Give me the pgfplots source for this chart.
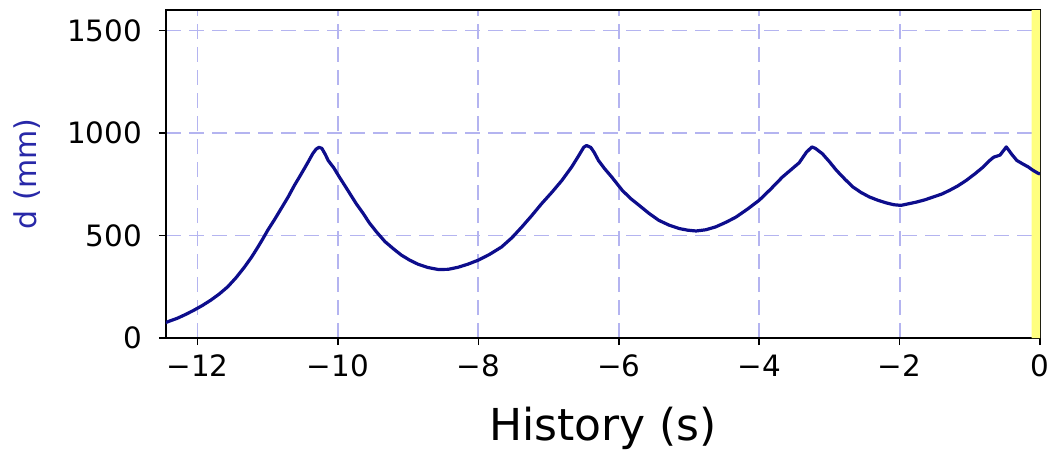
\documentclass[border=0pt]{standalone}
\usepackage{fontspec}
\setmainfont{DejaVu Sans}
\usepackage{pgfplots}
\pgfplotsset{compat=1.18}
\definecolor{curveblue}{HTML}{0D0D8C}
\definecolor{labelblue}{HTML}{2828A8}
\definecolor{gridblue}{HTML}{B4B4F0}
\definecolor{markyellow}{HTML}{FFFF80}

\begin{document}
\begin{tikzpicture}
\useasboundingbox (-83pt,-56pt) rectangle (442pt,169pt);
\begin{axis}[
  scale only axis,
  width=437pt, height=164pt,
  xmin=-12.45, xmax=0,
  ymin=0, ymax=1600,
  xtick={-12,-10,-8,-6,-4,-2,0},
  xticklabels={−12,−10,−8,−6,−4,−2,0},
  ytick={0,500,1000,1500},
  /pgf/number format/1000 sep={},
  /pgf/number format/assume math mode=true,
  tick pos=left,
  tick align=outside,
  major tick length=3.5pt,
  tick style={black, line width=0.8pt},
  axis line style={black, line width=0.8pt},
  grid=major,
  grid style={gridblue, line width=0.9pt, dash pattern=on 7.5pt off 4pt},
  ticklabel style={font=\fontsize{14.7}{17}\selectfont},
  xticklabel style={yshift=-1.5pt},
  yticklabel style={xshift=-5pt},
  xlabel={History (s)},
  xlabel style={at={(axis description cs:0.5,0)}, anchor=base, yshift=-51pt,
    inner sep=0pt, font=\fontsize{22}{26}\selectfont},
  ylabel={d (mm)},
  ylabel style={at={(axis description cs:0,0.5)}, anchor=center, yshift=69.5pt,
    inner sep=0pt, text=labelblue, font=\fontsize{15}{18}\selectfont},
]
\addplot[fill=markyellow, draw=none, forget plot] coordinates {
  (-0.12,0) (0,0) (0,1600) (-0.12,1600)
} \closedcycle;
\addplot[curveblue, line width=1.6pt, mark=none, line join=round] coordinates {
  (-12.48,72) (-12.38,85) (-12.29,96) (-12.17,115) (-12.05,136)
  (-11.93,159) (-11.81,185) (-11.69,215) (-11.57,250) (-11.45,295)
  (-11.33,347) (-11.23,395) (-11.14,444) (-11.07,484) (-11.0,526)
  (-10.90,580) (-10.81,631) (-10.71,688) (-10.62,745) (-10.55,785)
  (-10.48,826) (-10.42,862) (-10.36,899) (-10.31,922) (-10.27,930)
  (-10.23,925) (-10.18,895) (-10.14,866) (-10.06,830) (-9.98,785)
  (-9.90,742) (-9.83,704) (-9.74,655) (-9.64,607) (-9.55,560)
  (-9.45,517) (-9.33,470) (-9.21,435) (-9.10,405) (-8.98,380)
  (-8.86,360) (-8.72,344) (-8.57,334) (-8.43,335) (-8.29,345)
  (-8.15,360) (-8.0,380) (-7.84,408) (-7.67,444) (-7.52,490)
  (-7.38,542) (-7.24,597) (-7.10,655) (-6.95,712) (-6.81,769)
  (-6.67,835) (-6.57,890) (-6.50,930) (-6.46,939) (-6.40,930)
  (-6.35,905) (-6.29,866) (-6.20,825) (-6.10,785) (-5.95,720)
  (-5.83,680) (-5.71,647) (-5.57,608) (-5.43,574) (-5.28,550)
  (-5.14,534) (-5.02,526) (-4.90,522) (-4.76,528) (-4.62,542)
  (-4.47,565) (-4.33,590) (-4.17,628) (-4.0,672) (-3.84,725)
  (-3.67,785) (-3.55,820) (-3.43,855) (-3.33,905) (-3.25,932)
  (-3.20,925) (-3.10,899) (-3.00,860) (-2.90,818) (-2.78,775)
  (-2.67,738) (-2.55,710) (-2.43,688) (-2.31,672) (-2.19,659)
  (-2.08,650) (-1.98,647) (-1.87,655) (-1.76,663) (-1.64,674)
  (-1.52,688) (-1.40,702) (-1.29,720) (-1.17,742) (-1.05,769)
  (-0.93,800) (-0.81,834) (-0.72,865) (-0.66,882) (-0.57,892)
  (-0.48,932) (-0.40,895) (-0.33,866) (-0.24,848) (-0.17,835)
  (-0.10,818) (-0.03,804) (0,800)
};
\end{axis}
\end{tikzpicture}
\end{document}
